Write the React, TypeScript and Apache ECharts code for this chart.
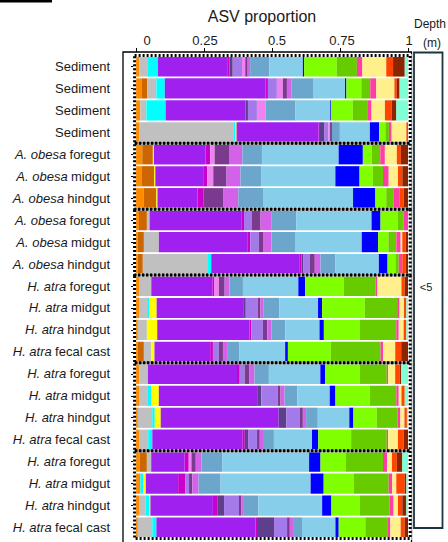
import React, { useEffect, useRef } from 'react';
import * as echarts from 'echarts';

// Samples, top to bottom
const samples = [
  'Sediment', 'Sediment', 'Sediment', 'Sediment',
  'A. obesa foregut', 'A. obesa midgut', 'A. obesa hindgut',
  'A. obesa foregut', 'A. obesa midgut', 'A. obesa hindgut',
  'H. atra foregut', 'H. atra midgut', 'H. atra hindgut', 'H. atra fecal cast',
  'H. atra foregut', 'H. atra midgut', 'H. atra hindgut', 'H. atra fecal cast',
  'H. atra foregut', 'H. atra midgut', 'H. atra hindgut', 'H. atra fecal cast',
];

// Number of consecutive samples in each sampling group (boxed together)
const groupSizes = [4, 3, 3, 4, 4, 4];

const xTicks = [0, 0.25, 0.5, 0.75, 1];
const xTickLabels = ['0', '0.25', '0.5', '0.75', '1'];
const depthLabel = '<5';

// ASV abundance (%) per taxon, one value per sample
const orange = [1.3, 2.0, 1.6, 1.1, 2.3, 2.0, 2.8, 1.1, 0.7, 0.7, 1.1, 1.1, 0.7, 0.7, 1.3, 1.1, 0.7, 1.1, 1.3, 1.6, 1.1, 0.7];
const chocolate = [0, 2.1, 0, 0, 3.9, 4.7, 4.7, 2.9, 2.2, 1.8, 0, 0, 0, 2.2, 0, 0, 0, 0, 2.7, 0, 0, 0];
const silver = [3.1, 3.4, 2.2, 34.8, 0, 0, 0, 1.0, 5.5, 23.9, 4.5, 3.3, 3.3, 2.7, 3.1, 3.3, 5.3, 3.4, 1.6, 0, 2.5, 5.3];
const cyan = [3.7, 3.1, 7.1, 0.5, 0, 0, 0, 0, 0, 1.2, 0, 0.4, 0, 0, 0, 1.2, 0.9, 1.5, 0, 1.0, 1.2, 1.5];
const yellow = [0, 0, 0, 0.5, 0.4, 0.4, 0.4, 0, 0, 0, 0, 2.8, 3.8, 1.2, 0, 2.8, 2.2, 0, 0, 1.0, 0.5, 0];
const purple = [25.7, 37.1, 29.4, 30.1, 19.0, 17.6, 14.7, 33.7, 32.5, 32.5, 22.4, 32.1, 33.9, 20.5, 32.7, 36.2, 43.4, 33.1, 12.3, 11.9, 23.0, 36.5];
const magenta = [0.6, 0.9, 0, 0.5, 1.7, 1.5, 2.3, 1.0, 1.1, 0.6, 0.6, 0, 0.7, 1.0, 1.0, 0, 0, 0.9, 1.5, 2.7, 1.6, 0.9];
const darkSlate = [1.2, 0, 0.9, 1.5, 0, 0, 0, 0, 0, 0.6, 0, 0.7, 0, 0, 0, 1.5, 2.8, 1.2, 0, 0, 2.5, 5.9];
const mediumPurple = [3.4, 3.3, 3.3, 1.6, 0, 0, 0, 2.8, 3.2, 2.5, 0, 4.4, 4.2, 2.2, 1.8, 6.1, 4.9, 3.3, 0, 1.3, 5.5, 4.8];
const violet = [1.2, 2.2, 3.2, 0.6, 1.6, 2.2, 0, 0, 0, 0, 1.8, 0, 0, 0, 0, 0, 0, 0, 1.0, 0, 0, 0];
const plum = [0.9, 1.5, 0, 0.7, 5.3, 4.9, 7.1, 3.3, 1.5, 1.8, 2.1, 1.0, 1.6, 1.5, 1.8, 1.0, 1.2, 1.0, 1.6, 1.2, 0.9, 1.0];
const orchid = [0.9, 1.6, 0, 0, 4.9, 5.1, 5.6, 3.9, 3.1, 2.1, 1.8, 1.2, 1.5, 1.8, 1.8, 1.5, 1.2, 1.2, 2.1, 2.3, 0.9, 1.2];
const steelBlue = [7.1, 8.0, 11.0, 2.9, 7.2, 7.6, 9.1, 9.2, 8.9, 5.5, 4.9, 5.8, 5.1, 4.3, 5.3, 4.7, 4.3, 4.0, 7.6, 8.1, 5.3, 3.3];
const skyBlue = [12.3, 11.8, 12.7, 11.0, 28.2, 27.3, 33.1, 27.7, 24.3, 15.9, 20.3, 14.2, 12.6, 16.8, 18.9, 11.9, 11.6, 14.0, 32.0, 33.1, 23.5, 12.3];
const blue = [0.5, 0.5, 0.3, 3.4, 8.9, 8.9, 8.2, 3.3, 6.0, 3.2, 2.5, 1.5, 1.6, 1.0, 1.8, 2.1, 1.5, 2.3, 4.2, 4.8, 3.4, 1.2];
const chartreuse = [12.0, 5.5, 8.1, 2.3, 3.3, 4.9, 4.0, 6.4, 3.8, 2.9, 14.2, 15.7, 13.1, 15.8, 12.6, 12.6, 8.6, 12.1, 9.2, 11.0, 10.4, 9.8];
const green = [7.4, 3.3, 5.3, 1.3, 3.1, 3.7, 2.8, 2.1, 2.9, 1.2, 11.6, 11.9, 13.5, 18.3, 10.0, 9.8, 7.7, 13.1, 13.8, 12.9, 11.0, 8.3];
const pink = [2.0, 2.2, 1.6, 1.0, 1.7, 2.1, 2.1, 1.6, 1.6, 1.3, 0.7, 0.9, 0.9, 0.9, 0.5, 0.9, 1.0, 0.5, 1.5, 1.3, 1.5, 0.9];
const lightYellow = [8.8, 6.7, 4.9, 5.4, 4.4, 3.4, 0, 0, 0.6, 0, 8.8, 1.6, 1.8, 4.5, 2.6, 1.0, 1.5, 3.6, 1.8, 1.5, 1.6, 3.8];
const orangeRed = [2.5, 0.9, 2.5, 0.6, 1.5, 1.6, 1.5, 0, 1.2, 1.2, 1.2, 0.9, 1.0, 2.2, 1.6, 1.2, 0.9, 2.1, 1.8, 3.1, 1.6, 1.5];
const brown = [4.3, 1.0, 1.7, 0, 2.6, 2.1, 1.6, 0, 0.9, 0.9, 1.2, 0, 0, 2.5, 0.6, 0, 0, 1.6, 2.0, 0.6, 1.5, 1.2];
const aquamarine = [1.2, 3.1, 4.3, 0, 0, 0, 0, 0, 0, 0, 0, 0.6, 0.6, 0, 2.5, 1.2, 0.4, 0, 2.1, 0.6, 0.6, 0];

// Stacking order, left to right
const taxa = [
  { name: 'ASV 1', color: '#FF8C00', values: orange },
  { name: 'ASV 2', color: '#CC6600', values: chocolate },
  { name: 'ASV 3', color: '#C0C0C0', values: silver },
  { name: 'ASV 4', color: '#00FFFF', values: cyan },
  { name: 'ASV 5', color: '#FFFF00', values: yellow },
  { name: 'ASV 6', color: '#A020F0', values: purple },
  { name: 'ASV 7', color: '#CC00CC', values: magenta },
  { name: 'ASV 8', color: '#5E3F8C', values: darkSlate },
  { name: 'ASV 9', color: '#A47AEA', values: mediumPurple },
  { name: 'ASV 10', color: '#EE82EE', values: violet },
  { name: 'ASV 11', color: '#7B3A8E', values: plum },
  { name: 'ASV 12', color: '#D462E8', values: orchid },
  { name: 'ASV 13', color: '#6CA6CD', values: steelBlue },
  { name: 'ASV 14', color: '#87CEEB', values: skyBlue },
  { name: 'ASV 15', color: '#0000FF', values: blue },
  { name: 'ASV 16', color: '#7FFF00', values: chartreuse },
  { name: 'ASV 17', color: '#66CC00', values: green },
  { name: 'ASV 18', color: '#FF3EA5', values: pink },
  { name: 'ASV 19', color: '#FFF08C', values: lightYellow },
  { name: 'ASV 20', color: '#FF4500', values: orangeRed },
  { name: 'ASV 21', color: '#8B2500', values: brown },
  { name: 'ASV 22', color: '#7FFFD4', values: aquamarine },
];

const FONT = '"Liberation Sans", Arial, sans-serif';
const GRID = { left: 136, top: 55.5, width: 272, height: 483 };

// Horizontal nudges (px) for the top tick labels
const tickLabelShift = [11, 1, 5, 2, 1];

function sampleLabel(s: string): string {
  for (const sp of ['A. obesa', 'H. atra']) {
    if (s.startsWith(sp + ' ')) return `{i|${sp}} {n|${s.slice(sp.length + 1)}}`;
  }
  return `{n|${s}}`;
}

export default function App() {
  const ref = useRef<HTMLDivElement>(null);

  useEffect(() => {
    if (!ref.current) return;
    const chart = echarts.init(ref.current, undefined, { renderer: 'svg' });

    const totals = samples.map((_, i) => taxa.reduce((acc, t) => acc + t.values[i], 0));
    const series = taxa.map((t) => ({
      type: 'bar',
      name: t.name,
      stack: 'all',
      barCategoryGap: '8%',
      silent: true,
      itemStyle: { color: t.color },
      data: t.values.map((v, i) => v / totals[i]),
    }));

    const band = GRID.height / samples.length;
    const boxLeft = GRID.left - 1.4;
    const boxWidth = GRID.width + 3.6;
    const graphics: any[] = [];
    let start = 0;
    groupSizes.forEach((n) => {
      const y0 = GRID.top + start * band;
      const h = n * band;
      graphics.push({
        type: 'rect', z: 20, silent: true,
        shape: { x: boxLeft, y: y0, width: boxWidth, height: h },
        style: { fill: 'none', stroke: '#fff', lineWidth: 3 },
      });
      graphics.push({
        type: 'rect', z: 21, silent: true,
        shape: { x: boxLeft, y: y0, width: boxWidth, height: h },
        style: { fill: 'none', stroke: '#000', lineWidth: 3, lineDash: [2, 2] },
      });
      start += n;
    });

    graphics.push(
      {
        type: 'rect', z: 15, silent: true,
        shape: { x: 123, y: 52, width: 288.5, height: 500 },
        style: { fill: 'none', stroke: '#000', lineWidth: 1.3 },
      },
      {
        type: 'rect', z: 15, silent: true,
        shape: { x: 0, y: 0, width: 52, height: 2.5 },
        style: { fill: '#000' },
      },
      {
        type: 'rect', z: 15, silent: true,
        shape: { x: 414, y: 52.5, width: 28.5, height: 475.5 },
        style: { fill: '#fff', stroke: '#1E3340', lineWidth: 1.8 },
      },
      {
        type: 'text', z: 15, silent: true, x: 262, y: 16,
        style: { text: 'ASV proportion', font: `16px ${FONT}`, fill: '#1a1a1a', align: 'center', verticalAlign: 'middle' },
      },
      {
        type: 'text', z: 15, silent: true, x: 430, y: 24,
        style: { text: 'Depth', font: `12px ${FONT}`, fill: '#1a1a1a', align: 'center', verticalAlign: 'middle' },
      },
      {
        type: 'text', z: 15, silent: true, x: 432, y: 43,
        style: { text: '(m)', font: `12px ${FONT}`, fill: '#1a1a1a', align: 'center', verticalAlign: 'middle' },
      },
      {
        type: 'text', z: 16, silent: true, x: 426, y: 287,
        style: { text: depthLabel, font: `11px ${FONT}`, fill: '#1a1a1a', align: 'center', verticalAlign: 'middle' },
      },
    );

    const rich: Record<string, any> = {};
    tickLabelShift.forEach((s, k) => {
      rich['t' + k] = { fontSize: 13, fontFamily: FONT, color: '#1a1a1a', padding: [0, 0, 0, s * 2] };
    });

    chart.setOption({
      animation: false,
      backgroundColor: '#fff',
      grid: { ...GRID, containLabel: false },
      xAxis: {
        type: 'value',
        position: 'top',
        min: 0,
        max: 1,
        interval: 0.25,
        offset: 3.5,
        splitLine: { show: false },
        axisLine: { show: false },
        axisTick: { show: true, length: 4, lineStyle: { color: '#000', width: 1 } },
        axisLabel: {
          margin: 5,
          formatter: (v: number) => {
            const k = xTicks.findIndex((t) => Math.abs(t - v) < 1e-9);
            return k < 0 ? '' : `{t${k}|${xTickLabels[k]}}`;
          },
          rich,
        },
      },
      yAxis: {
        type: 'category',
        inverse: true,
        data: samples.map((_, i) => String(i)),
        offset: 13,
        axisLine: { show: false },
        axisTick: { show: true, alignWithLabel: true, length: 5, lineStyle: { color: '#000', width: 1 } },
        axisLabel: {
          margin: 13,
          interval: 0,
          formatter: (v: string) => sampleLabel(samples[Number(v)]),
          rich: {
            i: { fontSize: 13, fontFamily: FONT, fontStyle: 'italic', color: '#1a1a1a' },
            n: { fontSize: 13, fontFamily: FONT, color: '#1a1a1a' },
          },
        },
      },
      series,
      graphic: graphics,
    });

    return () => chart.dispose();
  }, []);

  return (
    <div
      ref={ref}
      style={{ position: 'fixed', left: 0, top: 0, width: 448, height: 542, background: '#fff' }}
    />
  );
}
